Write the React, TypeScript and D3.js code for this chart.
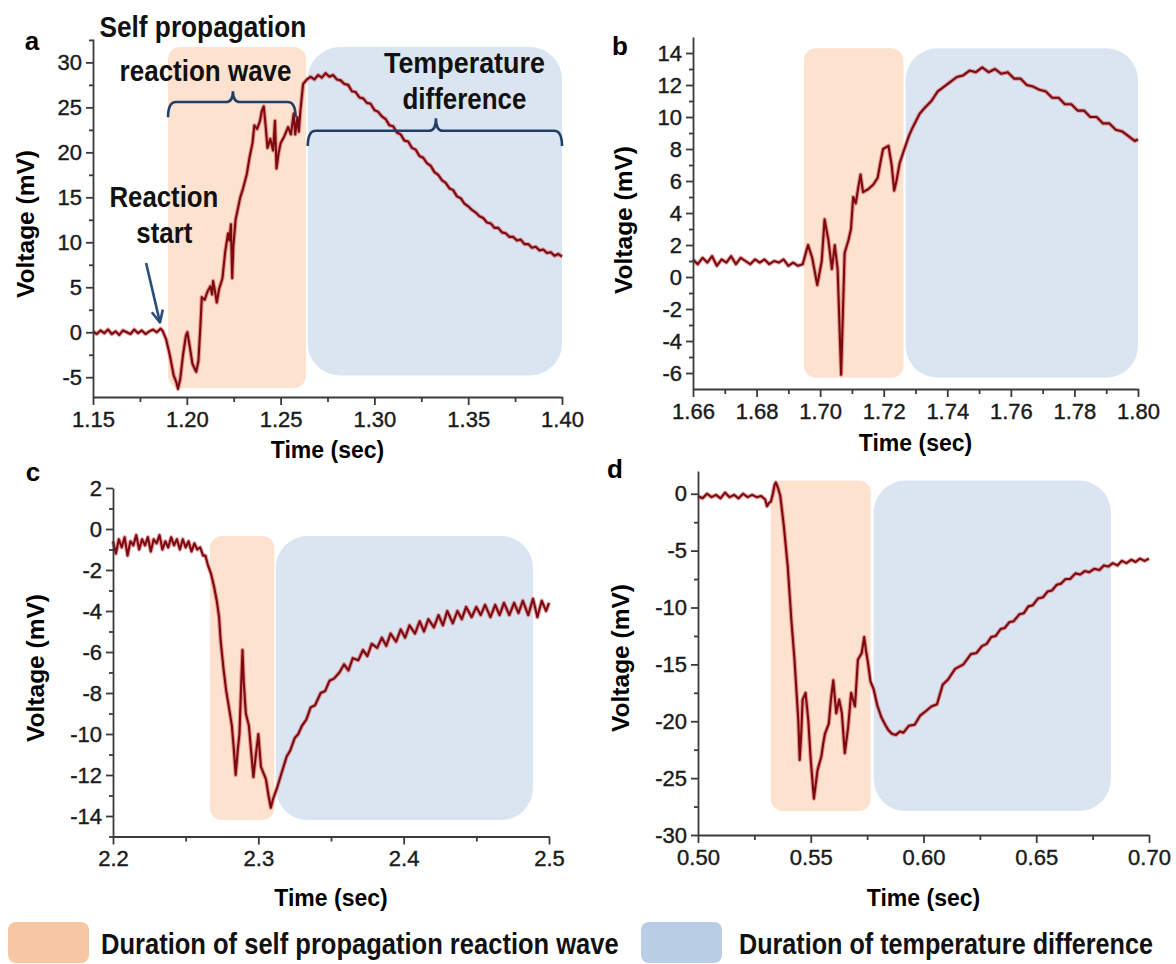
import React, { useEffect, useRef } from 'react'
import * as d3 from 'd3'

// ---- panel a : time (s), voltage (mV)
const traceA: [number, number][] = [
  [1.150, 0.1], [1.152, -0.2], [1.154, 0.2], [1.156, -0.1], [1.158, 0.3], [1.160, -0.2], [1.162, 0.1],
  [1.164, -0.3], [1.166, 0.2], [1.168, 0.0], [1.170, -0.2], [1.172, 0.3], [1.174, -0.1], [1.176, 0.2],
  [1.178, -0.2], [1.180, 0.1], [1.182, 0.3], [1.184, 0.0], [1.186, 0.4], [1.187, 0.2],
  [1.189, -0.8], [1.191, -2.6], [1.193, -4.8], [1.1945, -5.6], [1.1953, -6.3], [1.1965, -5.2], [1.198, -2.5],
  [1.1995, -0.4], [1.2003, 0.0], [1.2015, -1.5], [1.203, -3.5], [1.2045, -4.2], [1.205, -4.4], [1.2062, -3.2],
  [1.2072, 0.5], [1.208, 3.9], [1.2095, 3.6], [1.211, 4.5], [1.2125, 5.1], [1.2135, 4.2], [1.214, 5.7],
  [1.215, 4.6], [1.216, 3.3], [1.2172, 4.8], [1.219, 6.0], [1.2205, 9.0], [1.222, 11.0], [1.2228, 10.2],
  [1.2235, 12.0], [1.2242, 6.0], [1.2248, 9.5], [1.226, 12.5], [1.2285, 15.0], [1.230, 16.0], [1.232, 17.6],
  [1.2335, 19.5], [1.235, 21.0], [1.236, 23.0], [1.2375, 22.6], [1.239, 23.5], [1.240, 24.6], [1.241, 25.1],
  [1.242, 23.0], [1.243, 20.5], [1.2445, 21.5], [1.246, 20.2], [1.247, 23.5], [1.2478, 18.2], [1.249, 20.0],
  [1.250, 21.0], [1.252, 21.8], [1.254, 22.8], [1.2555, 22.0], [1.257, 24.3], [1.2578, 22.0], [1.259, 23.9],
  [1.2597, 22.3], [1.2605, 24.5], [1.262, 27.6], [1.264, 28.1],
  [1.266, 28.4], [1.268, 28.1], [1.270, 28.6], [1.272, 28.3], [1.274, 28.8], [1.276, 28.4], [1.278, 28.6],
  [1.280, 28.1], [1.282, 28.0], [1.284, 27.6], [1.286, 27.5], [1.288, 26.8], [1.290, 26.7], [1.292, 26.1],
  [1.294, 26.0], [1.296, 25.5], [1.298, 25.4], [1.300, 24.7], [1.302, 24.5], [1.304, 24.0], [1.306, 23.7],
  [1.308, 23.0], [1.310, 22.9], [1.312, 22.2], [1.314, 22.0], [1.316, 21.3], [1.318, 21.2], [1.320, 20.5],
  [1.322, 20.3], [1.324, 19.6], [1.326, 19.4], [1.328, 18.8], [1.330, 18.5], [1.332, 17.8], [1.334, 17.5],
  [1.336, 16.9], [1.338, 16.6], [1.340, 16.0], [1.342, 15.8], [1.344, 15.1], [1.346, 14.9], [1.348, 14.3],
  [1.350, 14.0], [1.352, 13.6], [1.354, 13.3], [1.356, 12.9], [1.358, 12.7], [1.360, 12.2], [1.362, 12.1],
  [1.364, 11.6], [1.366, 11.6], [1.368, 11.1], [1.370, 11.0], [1.372, 10.6], [1.374, 10.6], [1.376, 10.2],
  [1.378, 10.3], [1.380, 9.8], [1.382, 9.8], [1.384, 9.4], [1.386, 9.5], [1.388, 9.1], [1.390, 9.2],
  [1.392, 8.8], [1.394, 8.9], [1.396, 8.5], [1.398, 8.7], [1.400, 8.4],
]
// [t start, t end, v bottom, v top]
const waveA = [1.19, 1.2635, -6.2, 31.7]
const tempA = [1.2645, 1.4, -4.8, 31.7]
const xTicksA = [1.15, 1.2, 1.25, 1.3, 1.35, 1.4]
const xMinorA = [1.175, 1.225, 1.275, 1.325, 1.375]
const yTicksA = [-5, 0, 5, 10, 15, 20, 25, 30]
const yMinorA = [-2.5, 2.5, 7.5, 12.5, 17.5, 22.5, 27.5, 32.5]

// ---- panel b
const traceB: [number, number][] = [
  [1.660, 1.1], [1.6615, 0.8], [1.663, 1.2], [1.6645, 0.9], [1.666, 1.3], [1.6675, 0.7], [1.669, 1.1],
  [1.6705, 0.9], [1.672, 1.3], [1.6735, 0.8], [1.675, 1.2], [1.6765, 1.0], [1.678, 0.8], [1.6795, 1.1],
  [1.681, 0.9], [1.6825, 1.1], [1.684, 0.8], [1.6855, 1.0], [1.687, 0.9], [1.6885, 1.1], [1.690, 0.7],
  [1.6915, 0.9], [1.693, 0.7], [1.6945, 0.8],
  [1.6962, 2.0], [1.6975, 1.2], [1.6991, -0.5], [1.7005, 1.0], [1.7014, 3.6], [1.7026, 2.3], [1.7037, 0.5],
  [1.7046, 2.0], [1.7055, 0.5], [1.7066, -6.1], [1.7077, 1.5], [1.7089, 2.3], [1.7097, 3.0], [1.7104, 5.0],
  [1.7112, 4.6], [1.712, 5.6], [1.7127, 6.4], [1.7135, 5.3], [1.7152, 5.5], [1.7168, 5.8], [1.7181, 6.2],
  [1.719, 7.2], [1.7198, 8.0], [1.7215, 8.2], [1.7225, 7.0], [1.7233, 5.4], [1.724, 6.0], [1.725, 7.1],
  [1.7265, 8.0], [1.7279, 8.8], [1.729, 9.3], [1.7313, 10.2], [1.733, 10.6], [1.735, 11.0], [1.737, 11.6],
  [1.739, 11.9], [1.741, 12.2], [1.743, 12.5], [1.745, 12.6], [1.747, 12.9], [1.749, 12.8], [1.751, 13.1],
  [1.753, 12.8], [1.755, 13.0], [1.757, 12.7], [1.759, 12.8], [1.761, 12.4], [1.763, 12.4], [1.765, 12.0],
  [1.767, 11.9], [1.769, 11.7], [1.771, 11.6], [1.773, 11.2], [1.775, 11.2], [1.777, 10.8], [1.779, 10.8],
  [1.781, 10.4], [1.783, 10.4], [1.785, 10.0], [1.787, 10.0], [1.789, 9.6], [1.791, 9.6], [1.793, 9.2],
  [1.795, 9.1], [1.797, 8.8], [1.799, 8.5], [1.800, 8.6],
]
const waveB = [1.6949, 1.7262, -6.3, 14.3]
const tempB = [1.7269, 1.8, -6.3, 14.3]
const xTicksB = [1.66, 1.68, 1.7, 1.72, 1.74, 1.76, 1.78, 1.8]
const xMinorB = [1.67, 1.69, 1.71, 1.73, 1.75, 1.77, 1.79]
const yTicksB = [-6, -4, -2, 0, 2, 4, 6, 8, 10, 12, 14]
const yMinorB = [-5, -3, -1, 1, 3, 5, 7, 9, 11, 13]

// ---- panel c
const traceC: [number, number][] = [
  [2.200, -0.6], [2.202, -1.2], [2.204, -0.5], [2.206, -0.9], [2.208, -0.4], [2.210, -1.3], [2.212, -0.6],
  [2.214, -0.8], [2.216, -0.3], [2.218, -1.0], [2.220, -0.5], [2.222, -0.8], [2.224, -0.4], [2.226, -1.1],
  [2.228, -0.5], [2.230, -0.7], [2.232, -0.3], [2.234, -1.0], [2.236, -0.6], [2.238, -0.9], [2.240, -0.4],
  [2.242, -0.8], [2.244, -0.5], [2.246, -1.0], [2.248, -0.5], [2.250, -0.9], [2.252, -0.6], [2.254, -1.1],
  [2.256, -0.7], [2.258, -1.0], [2.260, -0.9], [2.262, -1.3],
  [2.2636, -1.3], [2.2655, -1.8], [2.2675, -2.2], [2.2695, -2.8], [2.2714, -3.5], [2.273, -4.3], [2.274, -5.4],
  [2.276, -6.8], [2.2779, -7.9], [2.280, -8.8], [2.2818, -9.6], [2.2832, -10.8], [2.2844, -12.0], [2.2858, -10.8],
  [2.287, -10.0], [2.288, -8.0], [2.2891, -5.9], [2.290, -7.5], [2.2914, -9.0], [2.2935, -9.6], [2.295, -10.8],
  [2.2966, -12.1], [2.298, -11.2], [2.300, -10.0], [2.3018, -11.6], [2.3035, -11.9], [2.3052, -12.2],
  [2.307, -13.0], [2.3086, -13.6], [2.310, -13.2], [2.313, -12.6],
  [2.316, -11.9], [2.3195, -11.1], [2.322, -10.8], [2.325, -10.2], [2.3275, -10.0], [2.330, -9.6], [2.333, -9.3],
  [2.336, -8.7], [2.339, -8.6], [2.3429, -8.0], [2.346, -7.9], [2.349, -7.4], [2.352, -7.3], [2.3558, -7.0],
  [2.359, -6.6], [2.362, -6.9], [2.365, -6.3], [2.3688, -6.4], [2.372, -5.9], [2.375, -6.2], [2.378, -5.6],
  [2.3818, -5.8], [2.385, -5.3], [2.388, -5.7], [2.391, -5.1], [2.3948, -5.5], [2.398, -4.9], [2.401, -5.3],
  [2.404, -4.7], [2.4078, -5.1], [2.411, -4.5], [2.414, -5.0], [2.417, -4.4], [2.4208, -4.8], [2.424, -4.2],
  [2.427, -4.7], [2.430, -4.0], [2.4338, -4.6], [2.437, -4.0], [2.440, -4.4], [2.443, -3.8], [2.4468, -4.3],
  [2.450, -3.8], [2.453, -4.2], [2.456, -3.7], [2.4597, -4.3], [2.463, -3.7], [2.466, -4.2], [2.469, -3.6],
  [2.4727, -4.2], [2.476, -3.6], [2.479, -4.1], [2.482, -3.5], [2.4857, -4.2], [2.489, -3.4], [2.492, -4.3],
  [2.495, -3.5], [2.498, -4.0], [2.500, -3.6],
]
const waveC = [2.2667, 2.311, -14.2, -0.34]
const tempC = [2.312, 2.489, -14.2, -0.34]
const xTicksC = [2.2, 2.3, 2.4, 2.5]
const xMinorC = [2.25, 2.35, 2.45]
const yTicksC = [-14, -12, -10, -8, -6, -4, -2, 0, 2]
const yMinorC = [-15, -13, -11, -9, -7, -5, -3, -1, 1]

// ---- panel d
const traceD: [number, number][] = [
  [0.500, -0.2], [0.502, -0.4], [0.504, 0.0], [0.506, -0.3], [0.508, -0.1], [0.510, -0.4], [0.512, 0.1],
  [0.514, -0.3], [0.516, -0.1], [0.518, -0.4], [0.520, 0.0], [0.522, -0.3], [0.524, -0.1], [0.526, -0.3],
  [0.528, -0.2], [0.5298, -0.5], [0.5306, -1.1], [0.5315, -0.8], [0.5323, -0.7], [0.5332, 0.0], [0.534, 0.8],
  [0.5345, 1.0], [0.5355, 0.5], [0.5365, -0.2], [0.5381, -2.9], [0.5398, -6.4], [0.5414, -11.1], [0.5428, -14.6],
  [0.5439, -18.1], [0.5445, -20.0], [0.5451, -23.4], [0.5458, -21.0], [0.5464, -18.1], [0.5477, -17.5],
  [0.5489, -19.9], [0.550, -23.4], [0.5514, -26.8], [0.553, -24.3], [0.5547, -23.1], [0.5555, -22.0],
  [0.5563, -21.1], [0.558, -20.2], [0.559, -18.0], [0.560, -16.4], [0.5613, -19.3], [0.5626, -18.1],
  [0.5638, -19.3], [0.5651, -22.8], [0.5666, -20.5], [0.5679, -17.5], [0.5696, -18.7], [0.5709, -14.6],
  [0.5726, -14.0], [0.5737, -12.6], [0.5745, -13.8], [0.5754, -14.9], [0.5765, -16.5], [0.5779, -17.2],
  [0.5795, -18.6], [0.5812, -19.6], [0.583, -20.3], [0.5845, -20.8], [0.586, -21.1], [0.5878, -21.2],
  [0.5895, -20.9], [0.5911, -21.0], [0.5935, -20.4], [0.5961, -20.3], [0.5985, -19.5], [0.6011, -19.1],
  [0.6035, -18.7], [0.606, -18.5], [0.6085, -16.8], [0.611, -16.3], [0.614, -15.4], [0.6177, -15.0],
  [0.621, -14.1], [0.6235, -14.0], [0.6259, -13.4], [0.628, -13.2], [0.630, -12.6], [0.632, -12.5],
  [0.6342, -11.9], [0.636, -11.8], [0.638, -11.3], [0.640, -11.2], [0.6425, -10.6], [0.6445, -10.5],
  [0.6465, -9.9], [0.6485, -9.8], [0.6508, -9.2], [0.653, -9.1], [0.655, -8.6], [0.657, -8.5],
  [0.6591, -8.0], [0.661, -7.9], [0.663, -7.5], [0.665, -7.5], [0.6674, -7.0], [0.6695, -7.1],
  [0.6715, -6.8], [0.6735, -6.9], [0.6757, -6.6], [0.678, -6.7], [0.680, -6.3], [0.682, -6.4],
  [0.6839, -6.1], [0.686, -6.3], [0.688, -5.9], [0.690, -6.1], [0.6922, -5.8], [0.694, -6.0],
  [0.696, -5.7], [0.698, -5.9], [0.700, -5.7],
]
const waveD = [0.5323, 0.5766, -27.9, 1.17]
const tempD = [0.5779, 0.6831, -27.9, 1.17]
const xTicksD = [0.5, 0.55, 0.6, 0.65, 0.7]
const xMinorD = [0.525, 0.575, 0.625, 0.675]
const yTicksD = [-30, -25, -20, -15, -10, -5, 0]
const yMinorD = [-27.5, -22.5, -17.5, -12.5, -7.5, -2.5]

const legendLabels = ['Duration of self propagation reaction wave', 'Duration of temperature difference']

const SANS = "'Liberation Sans', Arial, Helvetica, sans-serif"

const panels = [
  { id: 'a', trace: traceA, wave: waveA, temp: tempA, xDom: [1.15, 1.4], yDom: [-7.2, 32.6], xr: [93, 562], yr: [397, 39],
    xTicks: xTicksA, xMinor: xMinorA, yTicks: yTicksA, yMinor: yMinorA, xFmt: '.2f', letter: [32, 50], ytitle: [25, 224], xtitleY: 458 },
  { id: 'b', trace: traceB, wave: waveB, temp: tempB, xDom: [1.66, 1.8], yDom: [-7, 15], xr: [693, 1138], yr: [389, 37],
    xTicks: xTicksB, xMinor: xMinorB, yTicks: yTicksB, yMinor: yMinorB, xFmt: '.2f', letter: [620, 55], ytitle: [623, 220], xtitleY: 451 },
  { id: 'c', trace: traceC, wave: waveC, temp: tempC, xDom: [2.2, 2.5], yDom: [-15, 2], xr: [113, 549], yr: [836.5, 488],
    xTicks: xTicksC, xMinor: xMinorC, yTicks: yTicksC, yMinor: yMinorC, xFmt: '.1f', letter: [33, 481], ytitle: [35, 668], xtitleY: 906 },
  { id: 'd', trace: traceD, wave: waveD, temp: tempD, xDom: [0.5, 0.7], yDom: [-30, 2], xr: [698, 1149], yr: [835, 471],
    xTicks: xTicksD, xMinor: xMinorD, yTicks: yTicksD, yMinor: yMinorD, xFmt: '.2f', letter: [615, 478], ytitle: [620, 658], xtitleY: 906 },
]

// bold text squeezed to a given width (the figure uses a condensed bold face)
function narrowText(g: any, s: string, x: number, y: number, len: number, anchor: string, size: number) {
  const t = g.append('text').attr('text-anchor', anchor).attr('dy', '0.35em')
    .attr('font-family', SANS).attr('font-weight', 'bold').attr('font-size', size).attr('fill', '#111').text(s)
  const w = (t.node() as SVGTextElement).getComputedTextLength() || len
  t.attr('transform', `translate(${x},${y}) scale(${len / w},1)`)
  return t
}

const hyphen = (f: (n: number) => string) => (n: number) => f(n).replace('\u2212', '-')

function drawPanel(svg: any, p: any) {
  const x = d3.scaleLinear().domain(p.xDom).range(p.xr)
  const y = d3.scaleLinear().domain(p.yDom).range(p.yr)
  const g = svg.append('g')

  const band = (s: number[], fill: string, r: number) =>
    g.append('rect')
      .attr('x', x(s[0])).attr('y', y(s[3]))
      .attr('width', x(s[1]) - x(s[0])).attr('height', y(s[2]) - y(s[3]))
      .attr('rx', r).attr('fill', fill)
  band(p.wave, '#fce2cf', 12)
  band(p.temp, '#dbe5f1', 32)

  const line = d3.line<[number, number]>().x(d => x(d[0])).y(d => y(d[1]))
  g.append('path').datum(p.trace).attr('d', line).attr('fill', 'none')
    .attr('stroke', '#d4474a').attr('stroke-opacity', 0.5).attr('stroke-width', 4.2).attr('stroke-linejoin', 'round')
  g.append('path').datum(p.trace).attr('d', line).attr('fill', 'none')
    .attr('stroke', '#7a0a10').attr('stroke-width', 2.1).attr('stroke-linejoin', 'round')

  const style = (ax: any) => {
    ax.attr('font-size', 22).attr('font-family', SANS)
    ax.selectAll('path, line').attr('stroke', '#3a3a3a').attr('stroke-width', 1.8)
    ax.selectAll('text').attr('fill', '#1a1a1a').attr('stroke', '#1a1a1a').attr('stroke-width', 0.4)
  }
  const gx = g.append('g').attr('transform', `translate(0,${p.yr[0]})`)
    .call(d3.axisBottom(x).tickValues(p.xTicks).tickFormat(hyphen(d3.format(p.xFmt)) as any).tickSize(8).tickSizeOuter(0).tickPadding(6))
  style(gx)
  const gxm = g.append('g').attr('transform', `translate(0,${p.yr[0]})`)
    .call(d3.axisBottom(x).tickValues(p.xMinor).tickFormat(() => '').tickSize(5).tickSizeOuter(0))
  gxm.select('.domain').remove()
  style(gxm)

  const gy = g.append('g').attr('transform', `translate(${p.xr[0]},0)`)
    .call(d3.axisLeft(y).tickValues(p.yTicks).tickFormat(hyphen(d3.format('d')) as any).tickSize(7).tickSizeOuter(0).tickPadding(4))
  style(gy)
  const gym = g.append('g').attr('transform', `translate(${p.xr[0]},0)`)
    .call(d3.axisLeft(y).tickValues(p.yMinor.filter((v: number) => v >= p.yDom[0] && v <= p.yDom[1])).tickFormat(() => '').tickSize(4).tickSizeOuter(0))
  gym.select('.domain').remove()
  style(gym)

  g.append('text').attr('x', p.letter[0]).attr('y', p.letter[1]).attr('text-anchor', 'middle')
    .attr('font-family', SANS).attr('font-weight', 'bold').attr('font-size', 26).text(p.id)

  g.append('text').attr('transform', `translate(${p.ytitle[0]},${p.ytitle[1]}) rotate(-90)`)
    .attr('text-anchor', 'middle').attr('dy', '0.35em')
    .attr('font-family', SANS).attr('font-weight', 'bold').attr('font-size', 24.5).text('Voltage (mV)')

  g.append('text').attr('x', (p.xr[0] + p.xr[1]) / 2).attr('y', p.xtitleY).attr('text-anchor', 'middle')
    .attr('font-family', SANS).attr('font-weight', 'bold').attr('font-size', 23).text('Time (sec)')

  return { x, y }
}

function drawAnnotations(svg: any, x: any, y: any) {
  const g = svg.append('g')
  const navy = '#213e66'
  const label = (t: number, v: number, s: string, len: number) => narrowText(g, s, x(t), y(v), len, 'middle', 29)
  label(1.2086, 33.9, 'Self propagation', 207)
  label(1.2100, 29.1, 'reaction wave', 172)
  label(1.3480, 30.0, 'Temperature', 161)
  label(1.3480, 26.0, 'difference', 124)
  label(1.1878, 15.0, 'Reaction', 109)
  label(1.1880, 11.0, 'start', 56)

  const bracket = (t0: number, t1: number, tm: number, vLine: number, vEnd: number, vTip: number) => {
    const x0 = x(t0), x1 = x(t1), xm = x(tm), yl = y(vLine), ye = y(vEnd), yt = y(vTip)
    const d = `M${x0},${ye} Q${x0},${yl} ${x0 + 8},${yl} L${xm - 7},${yl} Q${xm},${yl} ${xm},${yt} ` +
      `Q${xm},${yl} ${xm + 7},${yl} L${x1 - 8},${yl} Q${x1},${yl} ${x1},${ye}`
    g.append('path').attr('d', d).attr('fill', 'none').attr('stroke', navy).attr('stroke-width', 2.6)
  }
  bracket(1.19, 1.258, 1.2246, 25.6, 23.9, 26.8)
  bracket(1.2645, 1.4, 1.3328, 22.4, 20.7, 23.8)

  // arrow to the reaction start
  const ax0 = x(1.1783), ay0 = y(7.7), ax1 = x(1.1857), ay1 = y(1.1)
  const ang = Math.atan2(ay1 - ay0, ax1 - ax0)
  const hl = 13
  g.append('path').attr('d', `M${ax0},${ay0} L${ax1},${ay1}`).attr('stroke', '#2b4d7c').attr('stroke-width', 2.6).attr('fill', 'none')
  g.append('path')
    .attr('d', `M${ax1 - hl * Math.cos(ang - 0.45)},${ay1 - hl * Math.sin(ang - 0.45)} L${ax1},${ay1} L${ax1 - hl * Math.cos(ang + 0.45)},${ay1 - hl * Math.sin(ang + 0.45)}`)
    .attr('stroke', '#2b4d7c').attr('stroke-width', 2.6).attr('fill', 'none').attr('stroke-linejoin', 'round')
}

function drawLegend(svg: any) {
  const g = svg.append('g')
  const items = [
    { fill: '#f6c7a2', sx: 8, tx: 101, len: 518 },
    { fill: '#b9cde5', sx: 641, tx: 739, len: 414 },
  ]
  items.forEach((it, i) => {
    g.append('rect').attr('x', it.sx).attr('y', 922).attr('width', 81).attr('height', 41).attr('rx', 8).attr('fill', it.fill)
    narrowText(g, legendLabels[i], it.tx, 943, it.len, 'start', 30)
  })
}

export default function App() {
  const ref = useRef<SVGSVGElement>(null)
  useEffect(() => {
    const svg = d3.select(ref.current)
    svg.selectAll('*').remove()
    const scales = panels.map(p => drawPanel(svg, p))
    drawAnnotations(svg, scales[0].x, scales[0].y)
    drawLegend(svg)
  }, [])
  return (
    <svg ref={ref} width={1176} height={964}
      style={{ position: 'absolute', left: 0, top: 0, background: '#fff' }} />
  )
}
